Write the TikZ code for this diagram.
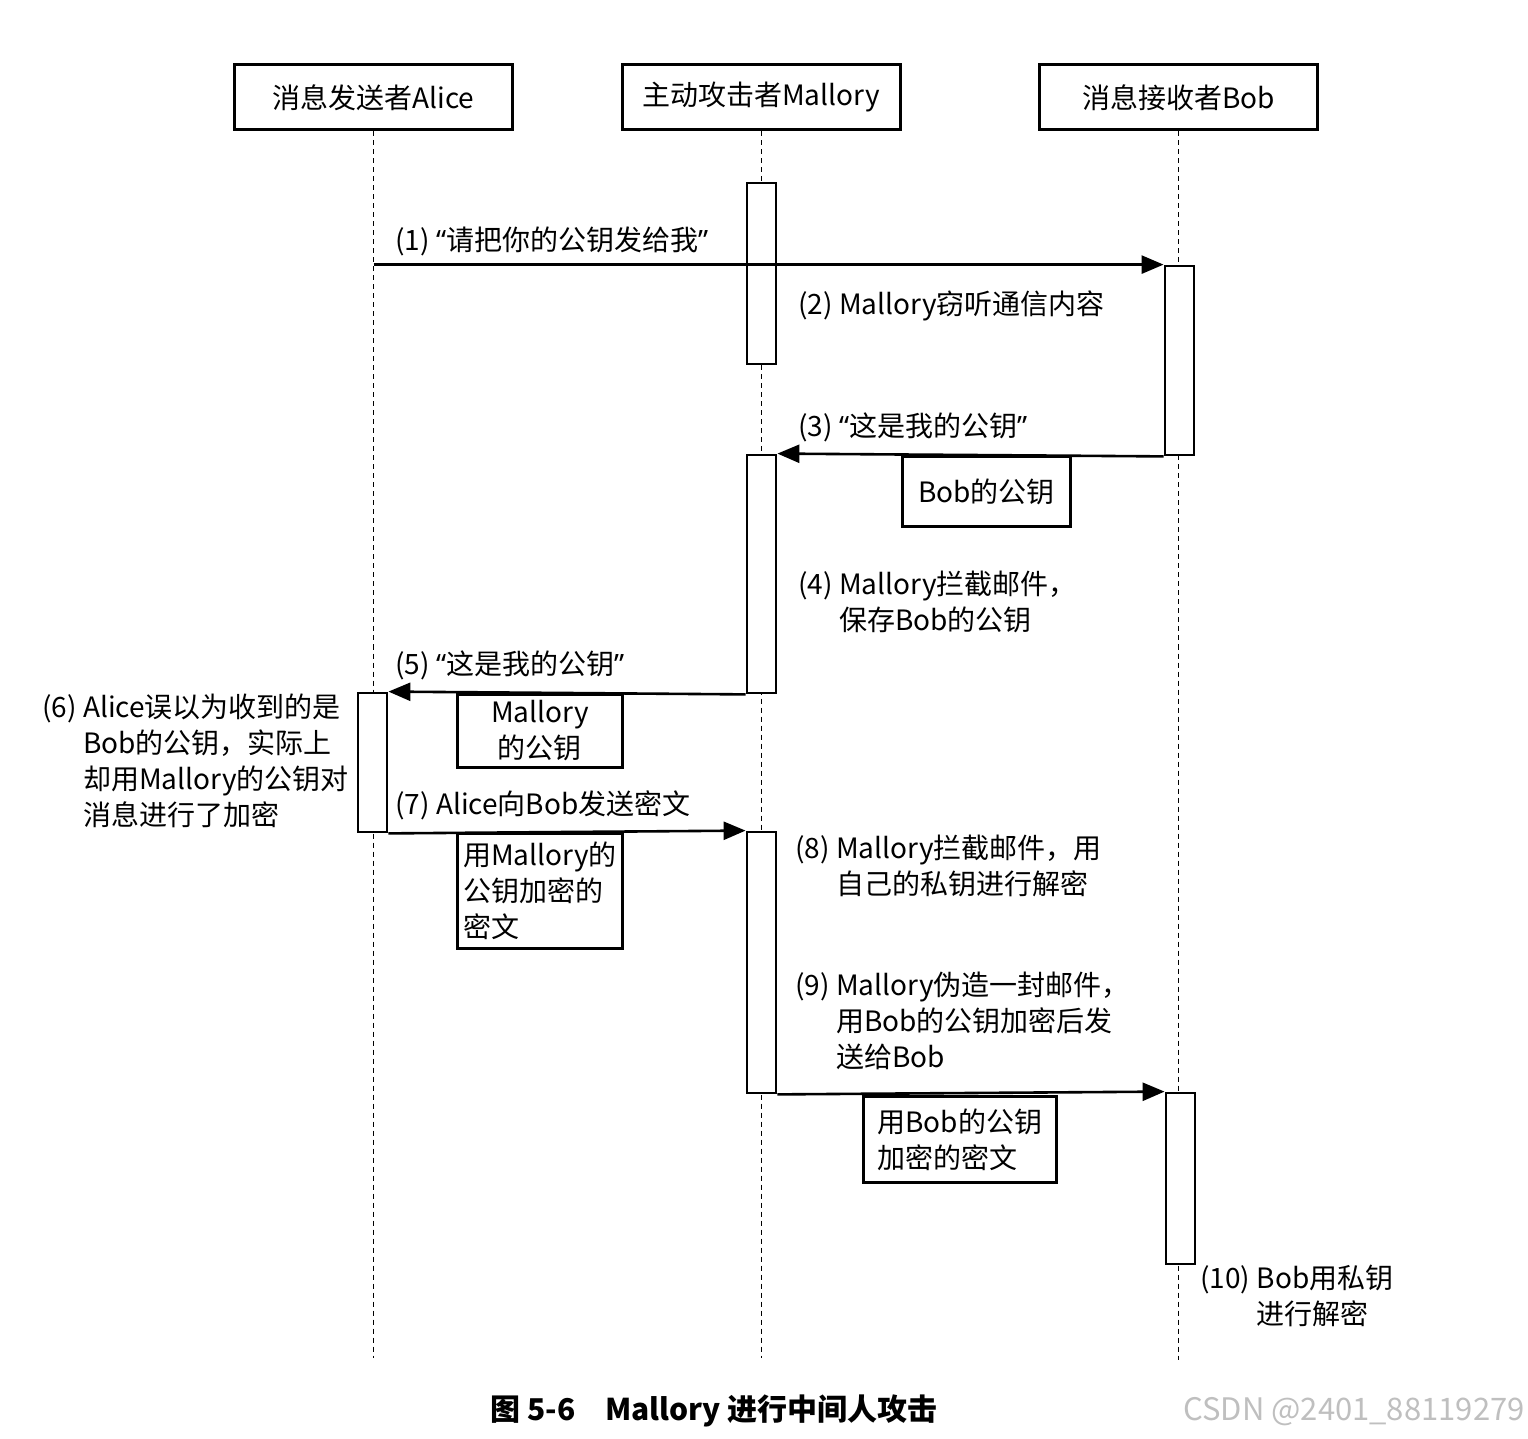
\documentclass[tikz,border=0pt]{standalone}
\usepackage{fontspec}
\setmainfont{Noto Sans CJK SC}
\newfontfamily\latinfont{Noto Sans}
\usetikzlibrary{arrows.meta}
\usetikzlibrary{positioning}
\tikzstyle{actor}=[shape=rectangle,draw,line width=1.5pt,minimum width=139pt,minimum height=32.5pt,inner sep=0pt]
\tikzstyle{act}=[shape=rectangle,draw,fill=white,line width=1.4pt,minimum width=14.5pt,inner sep=0pt]
\tikzstyle{note}=[shape=rectangle,draw,line width=1.4pt,anchor=north west,align=left,inner sep=0pt]
\tikzstyle{life}=[draw,dash pattern=on 2.5pt off 2pt,line width=0.5pt]
\tikzstyle{msg}=[draw,line width=1.3pt,-{Triangle[length=11pt,width=9pt]}]
\tikzstyle{lbl}=[inner sep=0pt,align=left]
\newcommand{\ind}[1]{\hphantom{(#1) }}
\newcommand{\quot}[1]{{\latinfont “}#1{\latinfont ”}}

\begin{document}
\begin{tikzpicture}[x=0.5pt,y=-0.5pt,font=\fontsize{14}{18}\selectfont]
		\useasboundingbox (0,0) rectangle (1528,1439);
		\node[actor] (alice) at (373.5,97.5) {消息发送者Alice};
		\node[actor] (mallory) at (761,97.5) {主动攻击者Mallory};
		\node[actor] (bob) at (1178.5,97.5) {消息接收者Bob};
		\coordinate (aend) at (373.5,1358);
		\coordinate (mend) at (761,1358);
		\coordinate (bend) at (1178.5,1360);
		\draw[life] (alice) -- (aend);
		\draw[life] (mallory) -- (mend);
		\draw[life] (bob) -- (bend);
%		
		\node[act,minimum height=90.5pt] (m1) at (761.5,273.5) {};
		\node[act,minimum height=94.5pt] (b1) at (1179.5,360.5) {};
		\node[act,minimum height=119pt] (m2) at (761.5,574) {};
		\node[act,minimum height=69.5pt] (a1) at (372.5,762.5) {};
		\node[act,minimum height=130.5pt] (m3) at (761.5,962.5) {};
		\node[act,minimum height=85.5pt] (b2) at (1180.5,1178.5) {};
%		
		\draw[msg] (alice |- b1.north west) -- (b1.north west);
		\draw[msg] (b1.south west) -- (m2.north east);
		\draw[msg] (m2.south west) -- (a1.north east);
		\draw[msg] (a1.south east) -- (m3.north west);
		\draw[msg] (m3.south east) -- (b2.north west);
%		
		\node[note,minimum width=84pt,minimum height=35pt] (k3) at (901,455) {Bob的公钥};
		\node[note,align=center,minimum width=82.5pt,minimum height=36.5pt] (k5) at (456,693) {Mallory\\的公钥};
		\node[note,minimum width=82.5pt,minimum height=57.5pt] (k7) at (456,832) {用Mallory的\\公钥加密的\\密文};
		\node[note,minimum width=96.5pt,minimum height=43pt] (k9) at (862,1095) {用Bob的公钥\\加密的密文};
%		
		\node[lbl,anchor=west] (l1) at (395,241) {(1) \quot{请把你的公钥发给我}};
		\node[lbl,anchor=west] (l2) at (798,306) {(2) Mallory窃听通信内容};
		\node[lbl,anchor=west] (l3) at (798,427) {(3) \quot{这是我的公钥}};
		\node[lbl,anchor=north west] (l4) at (798,571) {(4) Mallory拦截邮件，\\\ind{4}保存Bob的公钥};
		\node[lbl,anchor=west] (l5) at (395,665) {(5) \quot{这是我的公钥}};
		\node[lbl,anchor=north west] (l6) at (42,693) {(6) Alice误以为收到的是\\\ind{6}Bob的公钥，实际上\\\ind{6}却用Mallory的公钥对\\\ind{6}消息进行了加密};
		\node[lbl,anchor=west] (l7) at (395,805) {(7) Alice向Bob发送密文};
		\node[lbl,anchor=north west] (l8) at (795,835) {(8) Mallory拦截邮件，用\\\ind{8}自己的私钥进行解密};
		\node[lbl,anchor=north west] (l9) at (795,972) {(9) Mallory伪造一封邮件，\\\ind{9}用Bob的公钥加密后发\\\ind{9}送给Bob};
		\node[lbl,anchor=north west] (l10) at (1200,1265) {(10) Bob用私钥\\\ind{10}进行解密};
%		
		\node[lbl,anchor=west,font=\fontsize{15}{18}\bfseries\selectfont] (cap) at (490,1411) {图 5-6\quad Mallory 进行中间人攻击};
		\node[lbl,anchor=west,text=black!25,font=\fontsize{15.5}{18}\selectfont] (mark) at (1183,1412) {CSDN @2401\_88119279};
\end{tikzpicture}
\end{document}
